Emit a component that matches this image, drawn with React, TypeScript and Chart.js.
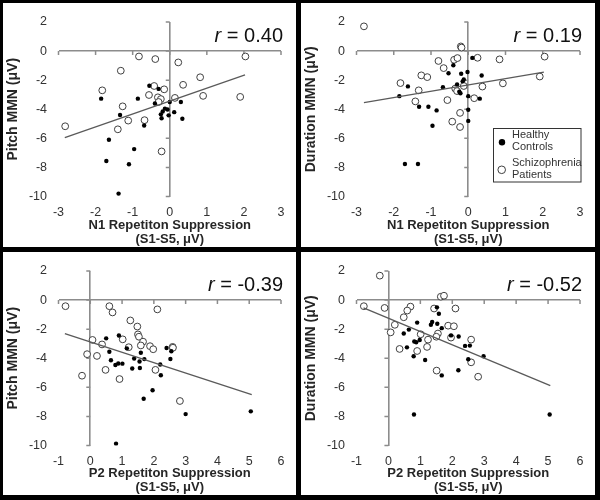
import { useEffect, useRef } from "react";
import { Chart, registerables } from "chart.js";
Chart.register(...registerables);

// ---------- data ----------
const n1TickRange = [-3, 3];
const p2TickRange = [-1, 6];
const mmnRange = [-10, 2];

// Panel 1: Pitch MMN vs N1 repetition suppression
const pitchN1Healthy: [number, number][] = [
  [-1.85, -3.27], [-0.86, -3.27], [-0.55, -2.38], [-0.3, -2.6], [0.0, -3.5], [0.3, -3.5],
  [-0.4, -3.6], [-0.13, -3.96], [-0.06, -4.02], [-0.19, -4.15], [-0.24, -4.35], [-0.03, -4.42],
  [0.12, -4.2], [-0.22, -4.62], [0.34, -4.65], [-1.34, -4.4], [-0.69, -5.12], [-1.64, -6.1],
  [-0.96, -6.74], [-1.71, -7.56], [-1.1, -7.78], [-1.38, -9.8],
];
const pitchN1Patients: [number, number][] = [
  [-2.82, -5.17], [-0.83, -0.37], [-0.39, -0.55], [0.23, -0.78], [2.04, -0.37], [-1.32, -1.35],
  [0.82, -1.8], [0.36, -2.32], [-1.82, -2.7], [-0.42, -2.4], [-0.56, -3.02], [-0.15, -2.63],
  [-0.32, -3.18], [-0.24, -3.3], [-0.3, -3.5], [0.14, -3.22], [0.9, -3.08], [1.9, -3.15],
  [-1.27, -3.8], [-1.12, -4.78], [-0.68, -4.75], [-1.4, -5.38], [-0.22, -6.9],
];
const pitchN1FitX = [-2.83, 2.03];
const pitchN1FitY = [-5.95, -1.64];

// Panel 2: Duration MMN vs N1 repetition suppression
const durN1Healthy: [number, number][] = [
  [0.11, -0.47], [-0.4, -0.97], [-0.53, -1.52], [-0.19, -1.56], [-0.02, -1.44], [0.36, -1.68],
  [-0.12, -1.95], [-0.15, -2.08], [-1.62, -2.43], [-1.85, -3.1], [-0.68, -2.48], [-0.3, -2.3],
  [-0.24, -2.8], [-0.21, -2.9], [0.0, -3.1], [0.31, -3.27], [-1.32, -3.83], [-1.07, -3.83],
  [-0.85, -4.08], [0.0, -4.03], [0.0, -4.8], [-0.96, -5.13], [-1.7, -7.76], [-1.35, -7.76],
];
const durN1Patients: [number, number][] = [
  [-2.8, 1.7], [-0.2, 0.32], [-0.18, 0.24], [0.25, -0.46], [0.84, -0.57], [2.05, -0.38],
  [-0.38, -0.6], [-0.29, -0.48], [-0.8, -0.68], [-0.66, -1.17], [-1.26, -1.67], [-1.1, -1.79],
  [-1.82, -2.2], [-1.33, -2.7], [-0.35, -2.58], [-0.3, -2.75], [-0.12, -2.4], [0.38, -2.44],
  [0.93, -2.22], [1.92, -1.75], [-1.42, -3.46], [-0.56, -3.37], [0.16, -3.24], [-0.22, -4.25],
  [-0.43, -4.85], [-0.22, -5.22],
];
const durN1FitX = [-2.8, 2.03];
const durN1FitY = [-3.55, -1.44];

// Panel 3: Pitch MMN vs P2 repetition suppression
const pitchP2Healthy: [number, number][] = [
  [0.5, -2.63], [0.9, -2.44], [1.15, -3.32], [0.6, -3.55], [0.65, -4.14], [0.79, -4.46],
  [0.88, -4.36], [1.01, -4.37], [1.38, -4.02], [1.32, -4.7], [1.55, -4.22], [1.56, -4.67],
  [1.59, -3.62], [1.7, -4.06], [2.2, -4.43], [2.22, -5.17], [2.4, -3.3], [2.55, -3.52],
  [2.52, -4.05], [1.96, -6.2], [1.68, -6.78], [3.0, -7.84], [5.05, -7.65], [0.81, -9.88],
];
const pitchP2Patients: [number, number][] = [
  [-0.78, -0.42], [0.6, -0.42], [0.7, -0.85], [2.11, -0.64], [1.26, -1.4], [1.48, -1.82],
  [1.5, -2.36], [1.53, -2.52], [1.02, -2.7], [0.07, -2.74], [0.37, -3.05], [1.21, -3.24],
  [1.66, -2.86], [1.59, -3.12], [1.88, -3.17], [1.98, -3.38], [2.59, -3.22], [2.6, -3.28],
  [-0.1, -3.72], [0.21, -3.84], [-0.26, -5.2], [0.48, -4.8], [0.92, -5.43], [2.05, -4.8],
  [2.82, -6.94],
];
const pitchP2FitX = [-0.8, 5.08];
const pitchP2FitY = [-2.3, -6.5];

// Panel 4: Duration MMN vs P2 repetition suppression
const durP2Healthy: [number, number][] = [
  [1.52, -0.5], [1.58, -0.94], [0.9, -1.55], [0.64, -2.03], [0.48, -2.3], [0.81, -2.85],
  [0.87, -2.9], [0.98, -2.75], [0.58, -3.25], [0.79, -3.86], [1.15, -4.12], [1.33, -1.7],
  [1.37, -1.5], [1.53, -1.63], [1.67, -1.93], [1.96, -2.43], [2.2, -2.5], [2.4, -3.15],
  [2.55, -3.13], [2.5, -4.07], [2.98, -3.86], [2.19, -4.83], [1.67, -5.18], [0.8, -7.87],
  [5.05, -7.87],
];
const durP2Patients: [number, number][] = [
  [-0.27, 1.68], [-0.77, -0.42], [-0.12, -0.54], [1.64, 0.23], [1.74, 0.3], [0.69, -0.45],
  [0.59, -0.72], [0.48, -1.18], [0.2, -1.7], [0.07, -2.22], [0.35, -3.36], [1.43, -0.58],
  [2.1, -0.58], [1.87, -1.76], [2.05, -1.8], [1.96, -2.58], [1.01, -2.35], [1.24, -2.72],
  [1.21, -3.22], [0.9, -3.5], [1.55, -2.3], [1.5, -2.52], [2.59, -2.72], [2.59, -4.28],
  [1.51, -4.85], [2.81, -5.27],
];
const durP2FitX = [-0.78, 5.07];
const durP2FitY = [-0.53, -5.88];

const rValues = ["0.40", "0.19", "-0.39", "-0.52"];
const legendLabels = [["Healthy", "Controls"], ["Schizophrenia", "Patients"]];

// ---------- styling ----------
const FONT = "'Liberation Sans', Arial, Helvetica, sans-serif";
const AXIS_GRAY = "#8c8c8c";
const TEXT = "#333333";

type PanelCfg = {
  healthy: [number, number][];
  patients: [number, number][];
  fitX: number[];
  fitY: number[];
  xRange: number[];
  xTitle: string[];
  yTitle: string;
  r: string;
  legend: boolean;
  w: number;
  h: number;
};

const panelPlugin = {
  id: "panelDecor",
  beforeDatasetsDraw(chart: any) {
    const { ctx, scales } = chart;
    const xs = scales.x;
    const ys = scales.y;
    const x0 = xs.getPixelForValue(0);
    const y0 = ys.getPixelForValue(0);
    ctx.save();
    ctx.strokeStyle = AXIS_GRAY;
    ctx.lineWidth = 1.5;
    ctx.beginPath();
    xs.ticks.forEach((t: any) => {
      const px = xs.getPixelForValue(t.value);
      ctx.moveTo(px, y0);
      ctx.lineTo(px, y0 + 4);
    });
    ys.ticks.forEach((t: any) => {
      const py = ys.getPixelForValue(t.value);
      ctx.moveTo(x0, py);
      ctx.lineTo(x0 - 4, py);
    });
    ctx.stroke();
    ctx.restore();
  },
  afterDraw(chart: any) {
    const { ctx, chartArea: ca } = chart;
    const opts = chart.options.plugins.panelDecor || {};
    ctx.save();
    // r label
    ctx.fillStyle = "#111";
    ctx.textBaseline = "alphabetic";
    ctx.font = `20px ${FONT}`;
    const rest = " = " + opts.r;
    const wRest = ctx.measureText(rest).width;
    ctx.font = `italic 20px ${FONT}`;
    const wR = ctx.measureText("r").width;
    const xStart = ca.right + 2 - wRest - wR;
    const yBase = ca.top + 20;
    ctx.fillText("r", xStart, yBase);
    ctx.font = `20px ${FONT}`;
    ctx.fillText(rest, xStart + wR, yBase);

    if (opts.legend) {
      const bw = 87.5;
      const bh = 53.5;
      const bx = ca.right - bw;
      const by = ca.top + 106;
      ctx.fillStyle = "#fff";
      ctx.fillRect(bx, by, bw, bh);
      ctx.strokeStyle = "#333";
      ctx.lineWidth = 1;
      ctx.strokeRect(Math.round(bx) + 0.5, Math.round(by) + 0.5, bw, bh);
      ctx.fillStyle = "#000";
      ctx.beginPath();
      ctx.arc(bx + 9.5, by + 14.2, 3.2, 0, Math.PI * 2);
      ctx.fill();
      ctx.beginPath();
      ctx.arc(bx + 9.2, by + 41.8, 3.8, 0, Math.PI * 2);
      ctx.fillStyle = "#fff";
      ctx.fill();
      ctx.strokeStyle = "#404040";
      ctx.stroke();
      ctx.fillStyle = TEXT;
      ctx.font = `11px ${FONT}`;
      ctx.textBaseline = "middle";
      ctx.fillText(legendLabels[0][0], bx + 19.5, by + 7);
      ctx.fillText(legendLabels[0][1], bx + 19.5, by + 19.2);
      ctx.fillText(legendLabels[1][0], bx + 19.5, by + 35.2);
      ctx.fillText(legendLabels[1][1], bx + 19.5, by + 46.8);
    }
    ctx.restore();
  },
};

function Panel({ cfg }: { cfg: PanelCfg }) {
  const ref = useRef<HTMLCanvasElement>(null);
  useEffect(() => {
    const toPts = (arr: [number, number][]) => arr.map(([x, y]) => ({ x, y }));
    const gridColor = (c: any) => (c.tick && c.tick.value === 0 ? AXIS_GRAY : "rgba(0,0,0,0)");
    const chart = new Chart(ref.current as HTMLCanvasElement, {
      type: "scatter",
      data: {
        datasets: [
          {
            label: "fit",
            data: cfg.fitX.map((x, i) => ({ x, y: cfg.fitY[i] })),
            showLine: true,
            borderColor: "#5a5a5a",
            borderWidth: 1.3,
            pointRadius: 0,
            fill: false,
          },
          {
            label: "Healthy Controls",
            data: toPts(cfg.healthy),
            pointRadius: 2.2,
            backgroundColor: "#000",
            borderColor: "#000",
            borderWidth: 0,
          },
          {
            label: "Schizophrenia Patients",
            data: toPts(cfg.patients),
            pointRadius: 3.4,
            backgroundColor: "#fff",
            borderColor: "#404040",
            borderWidth: 1,
          },
        ],
      } as any,
      options: {
        responsive: false,
        animation: false,
        layout: { padding: { top: 13.5, right: 15, left: 0, bottom: 0 } },
        plugins: {
          legend: { display: false },
          tooltip: { enabled: false },
          panelDecor: { r: cfg.r, legend: cfg.legend },
        } as any,
        scales: {
          x: {
            type: "linear",
            min: cfg.xRange[0],
            max: cfg.xRange[1],
            ticks: { stepSize: 1, color: TEXT, font: { family: FONT, size: 12.5 }, padding: 9 },
            grid: { color: gridColor, lineWidth: 1.6, drawTicks: false },
            border: { display: false },
            title: {
              display: true,
              text: cfg.xTitle,
              color: "#262626",
              font: { family: FONT, size: 13, weight: "bold", lineHeight: 1.02 },
              padding: { top: 0, bottom: 1.3 },
            },
            afterFit: (s: any) => {
              s.height = cfg.h - 13.5 - 180;
            },
          },
          y: {
            type: "linear",
            min: mmnRange[0],
            max: mmnRange[1],
            ticks: { stepSize: 2, color: TEXT, font: { family: FONT, size: 12.5 }, padding: 11.5 },
            grid: { color: gridColor, lineWidth: 1.6, drawTicks: false },
            border: { display: false },
            title: {
              display: true,
              text: cfg.yTitle,
              color: "#262626",
              font: { family: FONT, size: 14, weight: "bold" },
              padding: { top: 2, bottom: 0 },
            },
            afterFit: (s: any) => {
              s.width = 55.5;
            },
          },
        },
      } as any,
      plugins: [panelPlugin],
    });
    return () => chart.destroy();
  }, [cfg]);
  return (
    <div style={{ background: "#fff", width: cfg.w, height: cfg.h }}>
      <canvas ref={ref} width={cfg.w} height={cfg.h} style={{ display: "block" }} />
    </div>
  );
}

const panels: PanelCfg[] = [
  {
    healthy: pitchN1Healthy, patients: pitchN1Patients, fitX: pitchN1FitX, fitY: pitchN1FitY,
    xRange: n1TickRange, xTitle: ["N1 Repetiton Suppression", "(S1-S5, μV)"], yTitle: "Pitch MMN (μV)",
    r: rValues[0], legend: false, w: 293, h: 244,
  },
  {
    healthy: durN1Healthy, patients: durN1Patients, fitX: durN1FitX, fitY: durN1FitY,
    xRange: n1TickRange, xTitle: ["N1 Repetiton Suppression", "(S1-S5, μV)"], yTitle: "Duration MMN (μV)",
    r: rValues[1], legend: true, w: 294, h: 244,
  },
  {
    healthy: pitchP2Healthy, patients: pitchP2Patients, fitX: pitchP2FitX, fitY: pitchP2FitY,
    xRange: p2TickRange, xTitle: ["P2 Repetiton Suppression", "(S1-S5, μV)"], yTitle: "Pitch MMN (μV)",
    r: rValues[2], legend: false, w: 293, h: 243,
  },
  {
    healthy: durP2Healthy, patients: durP2Patients, fitX: durP2FitX, fitY: durP2FitY,
    xRange: p2TickRange, xTitle: ["P2 Repetiton Suppression", "(S1-S5, μV)"], yTitle: "Duration MMN (μV)",
    r: rValues[3], legend: false, w: 294, h: 243,
  },
];

export default function App() {
  return (
    <div
      style={{
        position: "absolute",
        left: 0,
        top: 0,
        width: 600,
        height: 500,
        boxSizing: "border-box",
        background: "#000",
        padding: "3px 5px 5px 3px",
        display: "grid",
        gridTemplateColumns: "293px 294px",
        gridTemplateRows: "244px 243px",
        gap: "5px",
      }}
    >
      {panels.map((p, i) => (
        <Panel key={i} cfg={p} />
      ))}
    </div>
  );
}
